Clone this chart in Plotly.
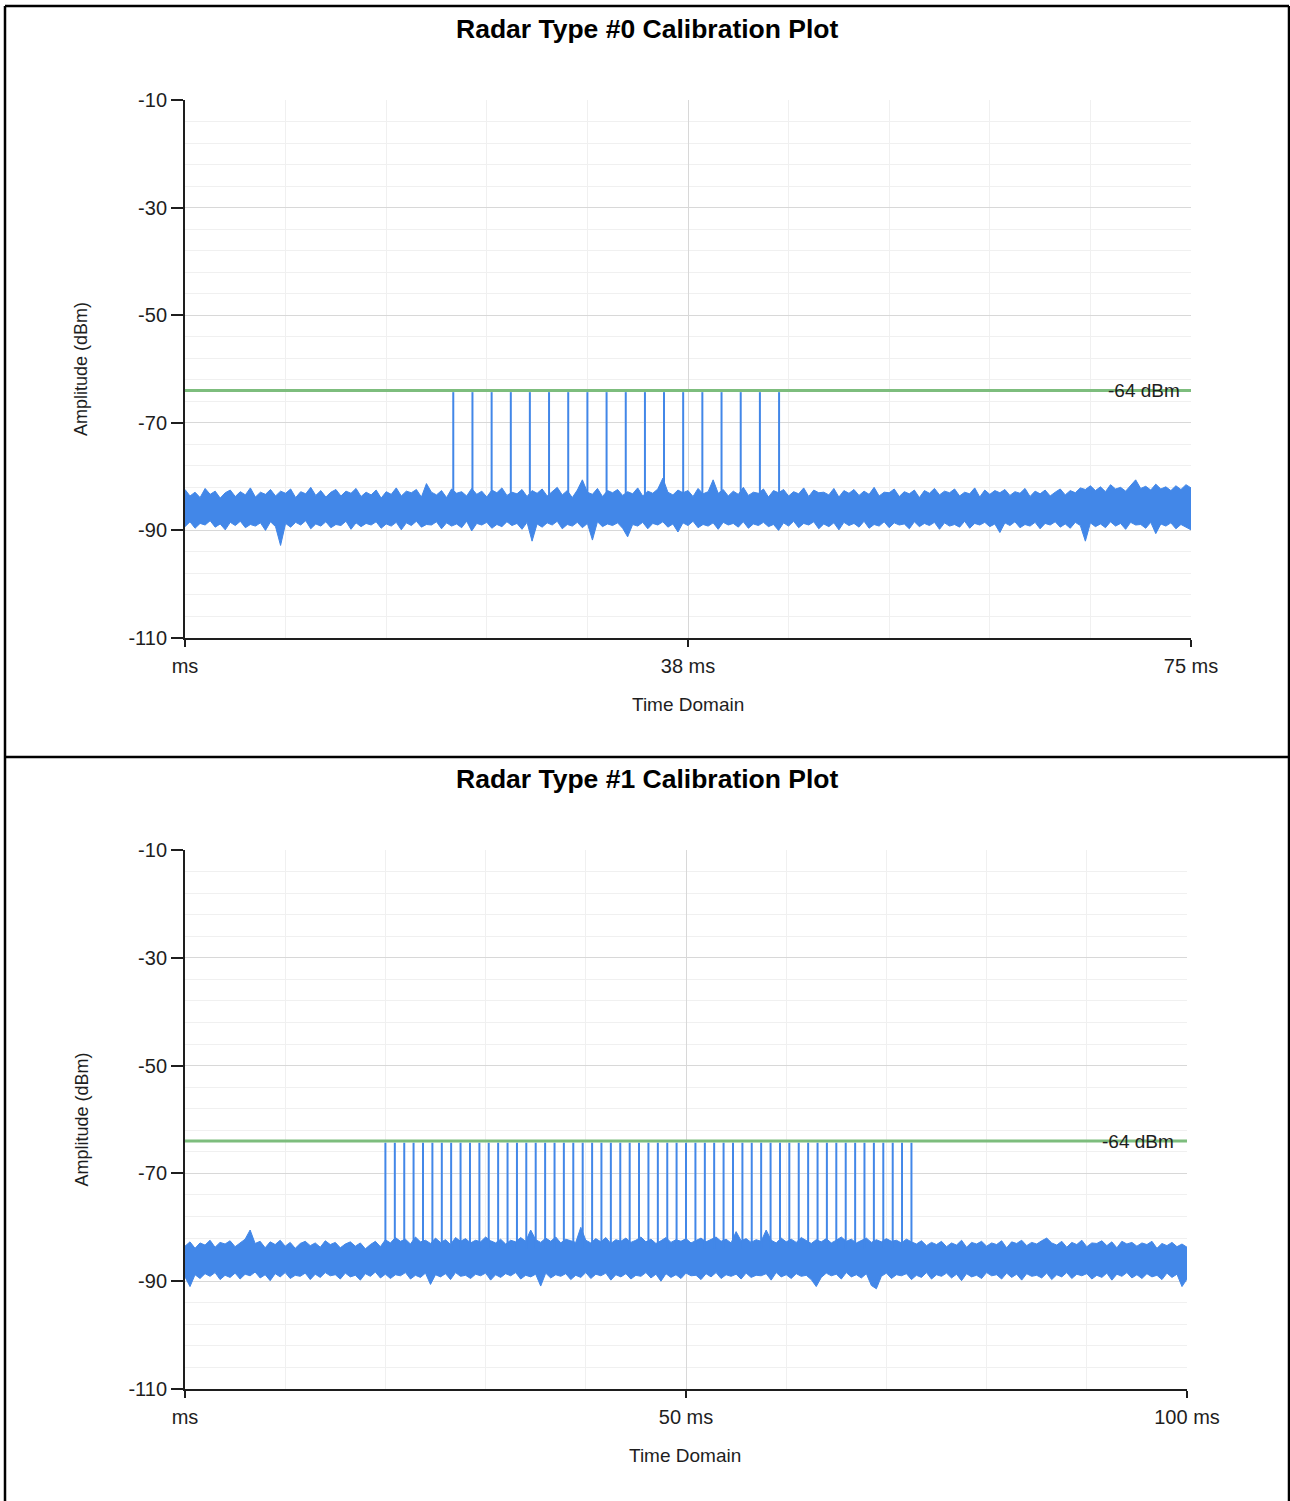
import plotly.graph_objects as go

# ---------------- data ----------------
TITLE_TOP = "Radar Type #0 Calibration Plot"
TITLE_BOTTOM = "Radar Type #1 Calibration Plot"
Y_TITLE = "Amplitude (dBm)"
X_TITLE = "Time Domain"

THRESHOLD_DBM = -64
THRESHOLD_LABEL = "-64 dBm"

X_RANGE_TOP = [0, 75]
X_TICKS_TOP = [0, 37.5, 75]
X_TICK_LABELS_TOP = ["ms", "38 ms", "75 ms"]
X_RANGE_BOTTOM = [0, 100]
X_TICKS_BOTTOM = [0, 50, 100]
X_TICK_LABELS_BOTTOM = ["ms", "50 ms", "100 ms"]
Y_RANGE = [-110, -10]
Y_TICKS = [-10, -30, -50, -70, -90, -110]
Y_TICK_LABELS = ["-10", "-30", "-50", "-70", "-90", "-110"]

# noise floor envelopes (dBm); top sampled every 0.375 ms, bottom every 0.5 ms
NOISE_STEP_TOP = 0.375
NOISE_TOP_UPPER = [
    -82.4, -83.6, -82.9, -83.9, -82.2, -83.3, -82.7, -84.0, -83.0, -82.5,
    -83.7, -82.8, -83.4, -82.1, -83.8, -82.9, -83.3, -82.4, -83.6, -82.7,
    -83.1, -82.3, -83.9, -82.8, -83.2, -82.0, -83.5, -82.6, -83.8, -82.9,
    -82.4, -83.6, -82.7, -83.1, -82.2, -83.7, -82.9, -83.4, -82.5, -84.0,
    -82.8, -83.3, -82.1, -83.6, -82.7, -83.0, -82.4, -83.8, -81.3, -82.9,
    -83.4, -82.6, -83.9, -82.3, -83.1, -82.8, -83.6, -82.2, -83.3, -82.7,
    -83.8, -82.5, -83.0, -82.1, -83.5, -82.9, -83.2, -82.4, -83.7, -82.6,
    -83.1, -82.3, -83.6, -82.8, -82.0, -83.4, -82.6, -83.9, -82.5, -80.6,
    -82.9, -83.3, -82.2, -83.7, -82.6, -83.0, -82.4, -83.5, -82.8, -83.2,
    -82.1, -83.6, -82.7, -83.1, -82.3, -80.3, -82.9, -83.4, -82.5, -83.0,
    -82.6, -83.7, -82.2, -83.2, -82.8, -80.6, -83.1, -82.4, -83.6, -82.7,
    -83.3, -82.0, -83.5, -82.9, -83.1, -82.3, -83.8, -82.6, -83.0, -82.4,
    -83.6, -82.8, -83.2, -82.1, -83.7, -82.5, -83.0, -82.9, -83.4, -82.2,
    -83.8, -82.6, -83.1, -82.4, -83.5, -82.7, -83.3, -82.0, -83.6, -82.9,
    -83.0, -82.3, -83.7, -82.8, -83.2, -82.5, -83.9, -82.6, -83.1, -82.2,
    -83.4, -82.7, -83.0, -82.3, -83.6, -82.9, -83.2, -82.1, -83.8, -82.5,
    -83.3, -82.6, -83.0, -82.4, -83.5, -82.8, -83.1, -82.2, -83.7, -82.7,
    -83.2, -82.5, -83.6, -82.9, -82.3, -83.4, -82.6, -83.0, -82.1, -82.4,
    -81.7, -82.6, -81.9, -82.8, -81.5, -82.3, -82.0, -82.7, -81.6, -80.6,
    -82.2, -81.8, -82.5, -81.4, -82.3, -81.9, -82.6, -81.7, -82.4, -81.5,
    -82.1,
]
NOISE_TOP_LOWER = [
    -89.3, -88.4, -89.6, -88.7, -89.0, -88.2, -89.4, -88.8, -89.9, -88.5,
    -89.1, -88.3, -89.5, -88.9, -89.2, -88.6, -90.0, -88.4, -89.3, -92.8,
    -88.7, -89.4, -88.5, -89.0, -88.2, -89.7, -88.8, -89.2, -88.4, -89.5,
    -88.9, -89.1, -88.3, -89.8, -88.6, -89.3, -88.7, -89.0, -88.4, -89.6,
    -88.8, -89.2, -88.5, -89.9, -88.6, -89.1, -88.3, -89.4, -88.9, -89.0,
    -88.4, -89.7, -88.6, -89.2, -88.8, -89.5, -88.3, -90.1, -88.7, -89.0,
    -88.5, -89.6, -88.9, -89.3, -88.4, -89.1, -88.7, -89.8, -88.5, -92.0,
    -88.8, -89.4, -88.6, -89.0, -88.3, -89.7, -88.9, -89.2, -88.5, -89.5,
    -88.7, -91.8, -88.4, -89.3, -88.8, -89.1, -88.6, -89.6, -91.2, -88.9,
    -89.2, -88.5, -89.7, -88.7, -89.0, -88.4, -89.4, -88.8, -90.3, -88.6,
    -89.1, -88.3, -89.5, -88.9, -89.2, -88.6, -89.8, -88.5, -89.0, -88.7,
    -89.4, -88.4, -89.6, -88.8, -89.1, -88.5, -89.3, -88.9, -90.0, -88.6,
    -89.2, -88.3, -89.5, -88.7, -89.0, -88.4, -89.7, -88.8, -89.3, -88.6,
    -89.9, -88.5, -89.1, -88.7, -89.4, -88.3, -89.6, -88.9, -89.2, -88.4,
    -89.5, -88.6, -89.0, -88.8, -89.7, -88.4, -89.3, -88.7, -89.1, -88.5,
    -89.8, -88.6, -89.2, -88.9, -89.4, -88.3, -89.6, -88.7, -89.0, -88.5,
    -89.3, -88.8, -90.4, -88.6, -89.1, -88.4, -89.5, -88.9, -89.2, -88.5,
    -89.7, -88.7, -89.0, -88.4, -89.4, -88.8, -89.6, -88.5, -89.1, -92.0,
    -88.6, -89.3, -88.8, -89.5, -88.4, -89.2, -88.7, -89.8, -88.5, -89.0,
    -88.9, -89.6, -88.5, -90.6, -88.8, -89.2, -88.6, -89.7, -88.9, -89.4,
    -89.9,
]
NOISE_STEP_BOTTOM = 0.5
NOISE_BOTTOM_UPPER = [
    -83.5, -82.7, -83.9, -82.9, -83.3, -82.4, -83.7, -82.8, -83.1, -82.5,
    -83.6, -82.9, -82.2, -80.5, -83.0, -82.6, -83.8, -82.7, -83.2, -82.4,
    -83.5, -82.8, -83.9, -83.0, -82.6, -83.4, -82.9, -83.7, -82.5, -83.2,
    -82.8, -83.8, -83.1, -82.7, -83.5, -82.9, -84.0, -83.2, -82.6, -83.6,
    -82.3, -82.9, -81.9, -82.6, -82.2, -83.1, -81.8, -82.7, -82.4, -83.0,
    -82.0, -82.8, -82.3, -83.2, -81.9, -82.6, -82.1, -82.9, -82.4, -82.7,
    -81.8, -82.5, -82.9, -82.2, -83.1, -82.4, -82.7, -81.9, -82.6, -80.5,
    -82.3, -82.8, -82.0, -82.6, -81.8, -82.9, -82.2, -82.5, -82.8, -80.0,
    -82.4, -82.9, -82.1, -82.7, -81.9, -83.0, -82.3, -82.6, -82.0, -82.8,
    -82.4, -81.8, -82.7, -82.2, -83.0, -82.5, -81.9, -82.8, -82.3, -82.6,
    -82.1, -82.9, -82.4, -82.0, -82.7, -82.3, -81.8, -82.6, -82.2, -82.9,
    -80.8, -82.5, -82.1, -82.8, -82.3, -82.6, -80.5, -82.4, -82.9, -82.0,
    -82.7, -82.2, -82.8, -81.9, -82.5, -83.0, -82.3, -82.7, -82.1, -82.9,
    -82.4, -81.8, -82.6, -82.2, -82.9, -82.5, -82.0, -82.8, -82.3, -82.7,
    -82.1, -82.6, -82.4, -82.9, -82.2, -82.7, -83.1, -82.5, -83.4, -82.8,
    -83.2, -82.6, -83.6, -82.9, -83.3, -82.4, -83.7, -82.8, -83.1, -82.6,
    -83.5, -82.9, -83.2, -82.5, -83.8, -82.7, -83.0, -82.4, -83.4, -82.8,
    -83.1, -82.5, -82.0, -82.9, -83.3, -82.6, -83.7, -82.8, -83.2, -82.4,
    -83.6, -82.9, -83.0, -82.5, -83.4, -82.7, -83.8, -82.6, -83.1, -82.8,
    -83.5, -82.9, -83.2, -82.6, -83.9, -83.0, -83.4, -82.8, -83.6, -83.1,
    -83.7,
]
NOISE_BOTTOM_LOWER = [
    -89.2, -91.0, -88.8, -89.5, -88.6, -89.1, -88.4, -89.7, -88.9, -89.3,
    -88.5, -89.6, -88.7, -89.0, -88.3, -89.4, -88.8, -89.9, -88.6, -89.2,
    -88.4, -89.5, -88.9, -89.1, -88.5, -89.7, -88.7, -89.3, -88.4, -89.0,
    -88.8, -89.6, -88.5, -89.2, -88.9, -89.8, -88.6, -89.1, -88.3, -89.4,
    -88.7, -89.5, -88.8, -89.0, -88.4, -89.6, -88.9, -89.3, -88.5, -90.6,
    -88.8, -89.2, -88.6, -89.7, -88.4, -89.1, -88.9, -89.5, -88.7, -89.0,
    -88.5, -89.8, -88.8, -89.3, -88.6, -89.0, -88.4, -89.6, -88.9, -89.2,
    -88.7, -90.9, -88.5, -89.4, -88.8, -89.1, -88.6, -89.7, -88.9, -89.3,
    -88.4, -89.5, -88.7, -89.0, -88.5, -89.8, -88.8, -89.2, -88.6, -89.6,
    -88.9, -89.1, -88.4, -89.4, -88.7, -90.0, -88.6, -89.3, -88.8, -89.5,
    -88.5, -89.0, -88.9, -89.7, -88.6, -89.2, -88.4, -89.5, -88.8, -89.1,
    -88.7, -89.6, -88.5, -89.3, -88.9, -89.0, -88.6, -89.8, -88.4, -89.2,
    -88.8, -89.5, -88.6, -89.1, -88.9, -89.7, -91.0, -89.3, -88.5, -89.0,
    -88.7, -89.6, -88.4, -89.2, -88.8, -89.4, -88.6, -90.8, -91.4, -89.1,
    -88.5, -89.5, -88.8, -89.0, -88.6, -89.7, -88.9, -89.3, -88.4, -89.6,
    -88.8, -89.1, -88.5, -89.4, -88.7, -89.9, -88.6, -89.2, -88.9, -89.5,
    -88.4, -89.0, -88.8, -89.6, -88.5, -89.3, -88.7, -89.8, -88.6, -89.1,
    -88.9, -89.4, -88.5, -89.7, -88.8, -89.2, -88.4, -89.5, -88.7, -89.0,
    -88.6, -89.6, -88.9, -89.3, -88.5, -89.8, -88.7, -89.1, -88.4, -89.4,
    -88.8, -89.5, -88.6, -89.2, -88.9, -89.7, -88.5, -89.3, -88.7, -91.0,
    -89.6,
]

PULSE_TIMES_TOP = [
    20.00, 21.43, 22.86, 24.29, 25.71, 27.14, 28.57, 30.00, 31.43,
    32.86, 34.29, 35.71, 37.14, 38.57, 40.00, 41.43, 42.86, 44.29,
]
PULSE_TIMES_BOTTOM = [
    20.00, 20.94, 21.88, 22.81, 23.75, 24.69, 25.63, 26.56, 27.50, 28.44,
    29.38, 30.31, 31.25, 32.19, 33.13, 34.06, 35.00, 35.94, 36.88, 37.81,
    38.75, 39.69, 40.63, 41.56, 42.50, 43.44, 44.38, 45.31, 46.25, 47.19,
    48.13, 49.06, 50.00, 50.94, 51.88, 52.81, 53.75, 54.69, 55.63, 56.56,
    57.50, 58.44, 59.38, 60.31, 61.25, 62.19, 63.13, 64.06, 65.00, 65.94,
    66.88, 67.81, 68.75, 69.69, 70.63, 71.56, 72.50,
]
PULSE_PEAK_DBM = -64.3
PULSE_BASE_DBM = -84.0

# ---------------- styling ----------------
W, H = 1290, 1501
BLUE = "#4287e8"
GREEN = "#7dbd7d"
TXT = "#1e1e1e"
GRID = "#d8d8d8"
MINOR_GRID = "#f0f0f0"
FONT = "Liberation Sans"


def py(p):
    return 1 - p / H


def px(p):
    return p / W


fig = go.Figure()


def add_panel(xa, ya, step, upper, lower, pulses, xmax):
    fig.add_trace(go.Scatter(x0=0, dx=step, y=lower, mode="lines",
                             line=dict(color=BLUE, width=1),
                             xaxis=xa, yaxis=ya, showlegend=False,
                             hoverinfo="skip"))
    fig.add_trace(go.Scatter(x0=0, dx=step, y=upper, mode="lines",
                             line=dict(color=BLUE, width=1),
                             fill="tonexty", fillcolor=BLUE,
                             xaxis=xa, yaxis=ya, showlegend=False,
                             hoverinfo="skip"))
    xs, ys = [], []
    for t in pulses:
        xs += [t, t, None]
        ys += [PULSE_BASE_DBM, PULSE_PEAK_DBM, None]
    fig.add_trace(go.Scatter(x=xs, y=ys, mode="lines",
                             line=dict(color=BLUE, width=2),
                             xaxis=xa, yaxis=ya, showlegend=False,
                             hoverinfo="skip"))
    fig.add_trace(go.Scatter(x=[0, xmax], y=[THRESHOLD_DBM, THRESHOLD_DBM],
                             mode="lines", line=dict(color=GREEN, width=3),
                             xaxis=xa, yaxis=ya, showlegend=False,
                             hoverinfo="skip"))


add_panel("x", "y", NOISE_STEP_TOP, NOISE_TOP_UPPER, NOISE_TOP_LOWER,
          PULSE_TIMES_TOP, X_RANGE_TOP[1])
add_panel("x2", "y2", NOISE_STEP_BOTTOM, NOISE_BOTTOM_UPPER,
          NOISE_BOTTOM_LOWER, PULSE_TIMES_BOTTOM, X_RANGE_BOTTOM[1])


def xaxis_cfg(dom, rng, tv, tt, minor_dt, anchor):
    return dict(domain=dom, range=rng, anchor=anchor,
                tickmode="array", tickvals=tv, ticktext=tt,
                ticks="outside", ticklen=7, tickwidth=2, tickcolor=TXT,
                showline=True, linecolor=TXT, linewidth=2,
                showgrid=True, gridcolor=GRID, gridwidth=1.2,
                zeroline=False, fixedrange=True, automargin=False,
                ticklabelstandoff=2,
                tickfont=dict(family=FONT, size=20, color=TXT),
                minor=dict(dtick=minor_dt, tick0=0, showgrid=True,
                           gridcolor=MINOR_GRID, gridwidth=1, ticks=""))


def yaxis_cfg(dom, anchor):
    return dict(domain=dom, range=Y_RANGE, anchor=anchor,
                tickmode="array", tickvals=Y_TICKS, ticktext=Y_TICK_LABELS,
                ticks="outside", ticklen=12, tickwidth=2, tickcolor=TXT,
                showline=True, linecolor=TXT, linewidth=2,
                showgrid=True, gridcolor=GRID, gridwidth=1.2,
                zeroline=False, fixedrange=True, automargin=False,
                tickfont=dict(family=FONT, size=20, color=TXT),
                minor=dict(dtick=4, tick0=-10, showgrid=True,
                           gridcolor=MINOR_GRID, gridwidth=1, ticks=""))


TOP_PLOT = (100, 638)
BOT_PLOT = (850, 1389)

layout = dict(
    width=W, height=H, autosize=False,
    margin=dict(l=0, r=0, t=0, b=0, pad=0, autoexpand=False),
    paper_bgcolor="white", plot_bgcolor="white", showlegend=False,
    xaxis=xaxis_cfg([px(185), px(1191)], X_RANGE_TOP, X_TICKS_TOP,
                    X_TICK_LABELS_TOP, 7.5, "y"),
    yaxis=yaxis_cfg([py(TOP_PLOT[1]), py(TOP_PLOT[0])], "x"),
    xaxis2=xaxis_cfg([px(185), px(1187)], X_RANGE_BOTTOM, X_TICKS_BOTTOM,
                     X_TICK_LABELS_BOTTOM, 10, "y2"),
    yaxis2=yaxis_cfg([py(BOT_PLOT[1]), py(BOT_PLOT[0])], "x2"),
)
fig.update_layout(**layout)

ann = []
for title, yc in [(TITLE_TOP, 29), (TITLE_BOTTOM, 779)]:
    ann.append(dict(text="<b>" + title + "</b>", x=px(647), y=py(yc),
                    xref="paper", yref="paper", showarrow=False,
                    xanchor="center", yanchor="middle",
                    font=dict(family=FONT, size=26.5, color="black")))
for (a, b) in [TOP_PLOT, BOT_PLOT]:
    ann.append(dict(text=Y_TITLE, x=px(81), y=py((a + b) / 2),
                    xref="paper", yref="paper", showarrow=False,
                    textangle=-90, xanchor="center", yanchor="middle",
                    font=dict(family=FONT, size=18, color=TXT)))
for xc, yc in [(688, 704), (685, 1455)]:
    ann.append(dict(text=X_TITLE, x=px(xc), y=py(yc),
                    xref="paper", yref="paper", showarrow=False,
                    xanchor="center", yanchor="middle",
                    font=dict(family=FONT, size=19, color=TXT)))
for xr, yr, xv in [("x", "y", 71.5), ("x2", "y2", 95.1)]:
    ann.append(dict(text=THRESHOLD_LABEL, x=xv, y=THRESHOLD_DBM,
                    xref=xr, yref=yr, showarrow=False,
                    xanchor="center", yanchor="middle",
                    font=dict(family=FONT, size=19, color=TXT)))
fig.update_layout(annotations=ann)

line = dict(color="black", width=2.5)
shapes = [
    dict(type="line", xref="paper", yref="paper", x0=px(5), x1=px(1289),
         y0=py(6), y1=py(6), line=line),
    dict(type="line", xref="paper", yref="paper", x0=px(5), x1=px(1289),
         y0=py(757), y1=py(757), line=line),
    dict(type="line", xref="paper", yref="paper", x0=px(5), x1=px(5),
         y0=py(6), y1=py(1501), line=line),
    dict(type="line", xref="paper", yref="paper", x0=px(1289), x1=px(1289),
         y0=py(6), y1=py(1501), line=line),
]
fig.update_layout(shapes=shapes)

fig.write_html("out.html", config={"displayModeBar": False},
               post_script="document.body.style.margin='0';")
